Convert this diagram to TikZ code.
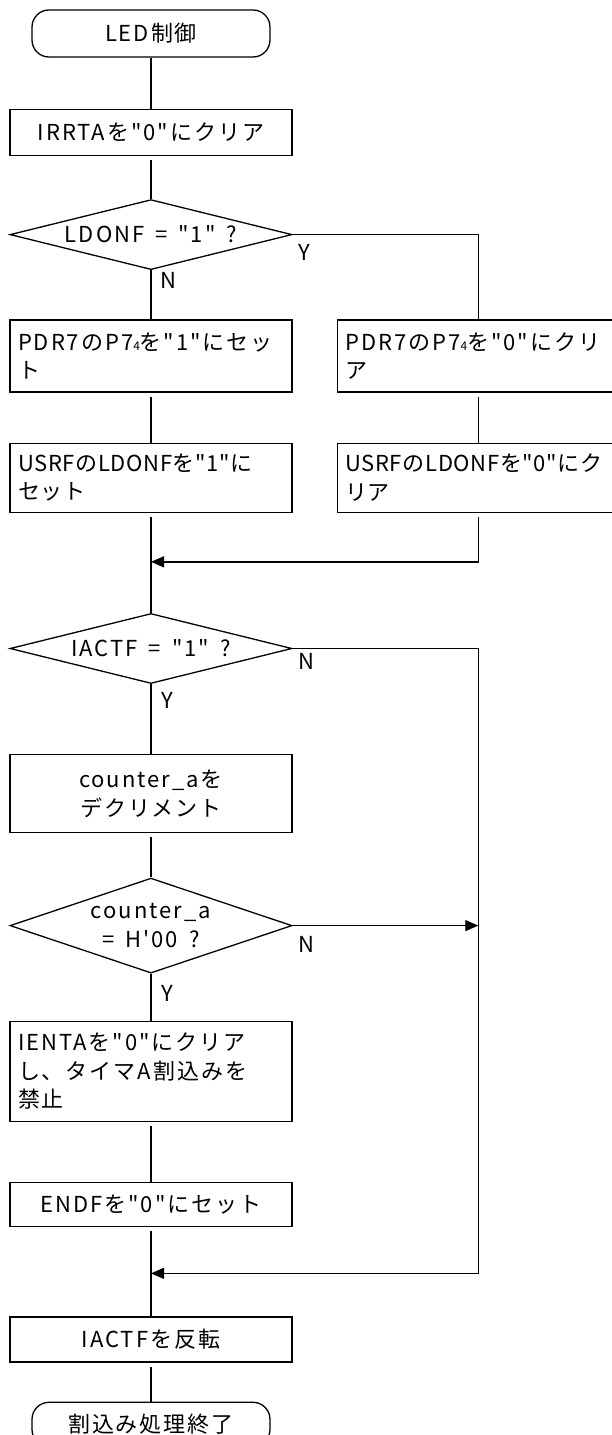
\documentclass[tikz,border=0pt]{standalone}
\usepackage{fontspec}
\newfontfamily\jpfont[LetterSpace=9]{Noto Sans CJK JP}
\newfontfamily\jptight[LetterSpace=3]{Noto Sans CJK JP}
\usetikzlibrary{arrows.meta,positioning,shapes.geometric}

\begin{document}
\begin{tikzpicture}[
  x=1pt, y=-1pt,
  font=\jpfont\fontsize{22}{28.5}\selectfont, >={Triangle[length=13pt,width=11pt]},
  term/.style={draw, rounded corners=17pt, line width=1.3pt, minimum width=238pt,
               minimum height=47pt, inner sep=2pt},
  box/.style={draw, line width=1.3pt, minimum width=282pt, inner xsep=8pt, inner ysep=2pt},
  boxl/.style={box, text width=266pt, align=left},
  boxc/.style={box, align=center},
  tight/.style={font=\jptight\fontsize{22}{28.5}\selectfont},
  dec/.style={diamond, draw, line width=1.3pt, minimum width=282pt, inner sep=0pt, aspect=4,
              align=center},
  yn/.style={inner sep=0pt},
  l/.style={line width=1.3pt},
  lo/.style={l, shorten <=4pt},
  a/.style={l, ->},
]
\useasboundingbox (0,0) rectangle (611,1435);
\newcommand{\sub}[1]{{\fontsize{12}{12}\selectfont #1}}

\node[term] (start) at (151,33.5) {LED制御};
\node[boxc, minimum height=46pt, below=51pt of start] (clr) {IRRTAを"0"にクリア};
\node[dec, minimum height=70pt, below=43pt of clr] (ldonf) {LDONF\enspace=\enspace"1"\enspace?};
\node[boxl, minimum height=72pt, below=49pt of ldonf] (p74on) {PDR7のP7\sub{4}を"1"にセッ\\ト};
\node[boxl, minimum height=72pt, right=44pt of p74on] (p74off) {PDR7のP7\sub{4}を"0"にクリ\\ア};
\node[boxl, tight, minimum height=69pt, below=50pt of p74on] (fon) {USRFのLDONFを"1"に\\セット};
\node[boxl, tight, minimum height=69pt, below=50pt of p74off] (foff) {USRFのLDONFを"0"にク\\リア};
\coordinate[below=49pt of fon.south] (m1);
\node[dec, minimum height=70pt, below=100pt of fon] (iactf) {IACTF\enspace=\enspace"1"\enspace?};
\node[boxc, minimum height=78pt, below=70pt of iactf] (dec) {counter\_aを\\デクリメント};
\node[dec, minimum height=95pt, aspect=3, below=44pt of dec] (zero) {counter\_a\\=\enspace H'00\enspace?};
\node[boxl, minimum height=100pt, below=47pt of zero] (ienta) {IENTAを"0"にクリア\\し、タイマA割込みを\\禁止};
\node[boxc, minimum height=44pt, below=60pt of ienta] (endf) {ENDFを"0"にセット};
\coordinate[below=46pt of endf.south] (m2);
\node[boxc, minimum height=45pt, below=89pt of endf] (flip) {IACTFを反転};
\node[term, minimum height=44pt, below=39pt of flip] (stop) {割込み処理終了};
\coordinate (r2) at (foff.south |- m2);

% Y / N
\node[yn, below right=10pt and 6pt of ldonf.east] (ldonfy) {Y};
\node[yn, below right=2pt and 9pt of ldonf.south] (ldonfn) {N};
\node[yn, below right=5pt and 6pt of iactf.east] (iactfn) {N};
\node[yn, below right=8pt and 10pt of iactf.south] (iactfy) {Y};
\node[yn, below right=11pt and 6pt of zero.east] (zeron) {N};
\node[yn, below right=11pt and 10pt of zero.south] (zeroy) {Y};

\draw[l] (start) -- (clr);
\draw[lo] (clr) -- (ldonf);
\draw[l] (ldonf) -- (p74on);
\draw[l] (ldonf.east) -| (p74off.north);
\draw[lo] (p74on) -- (fon);
\draw[lo] (p74off) -- (foff);
\draw[lo] (fon) -- (iactf);
\draw[a, shorten <=4pt] (foff.south) |- (m1);
\draw[l] (iactf) -- (dec);
\draw[a] (iactf.east) -| (r2) -- (m2);
\draw[lo] (dec) -- (zero);
\draw[a] (zero.east) -- (zero.east -| r2);
\draw[l] (zero) -- (ienta);
\draw[lo] (ienta) -- (endf);
\draw[lo] (endf) -- (flip);
\draw[lo] (flip) -- (stop);
\end{tikzpicture}
\end{document}
